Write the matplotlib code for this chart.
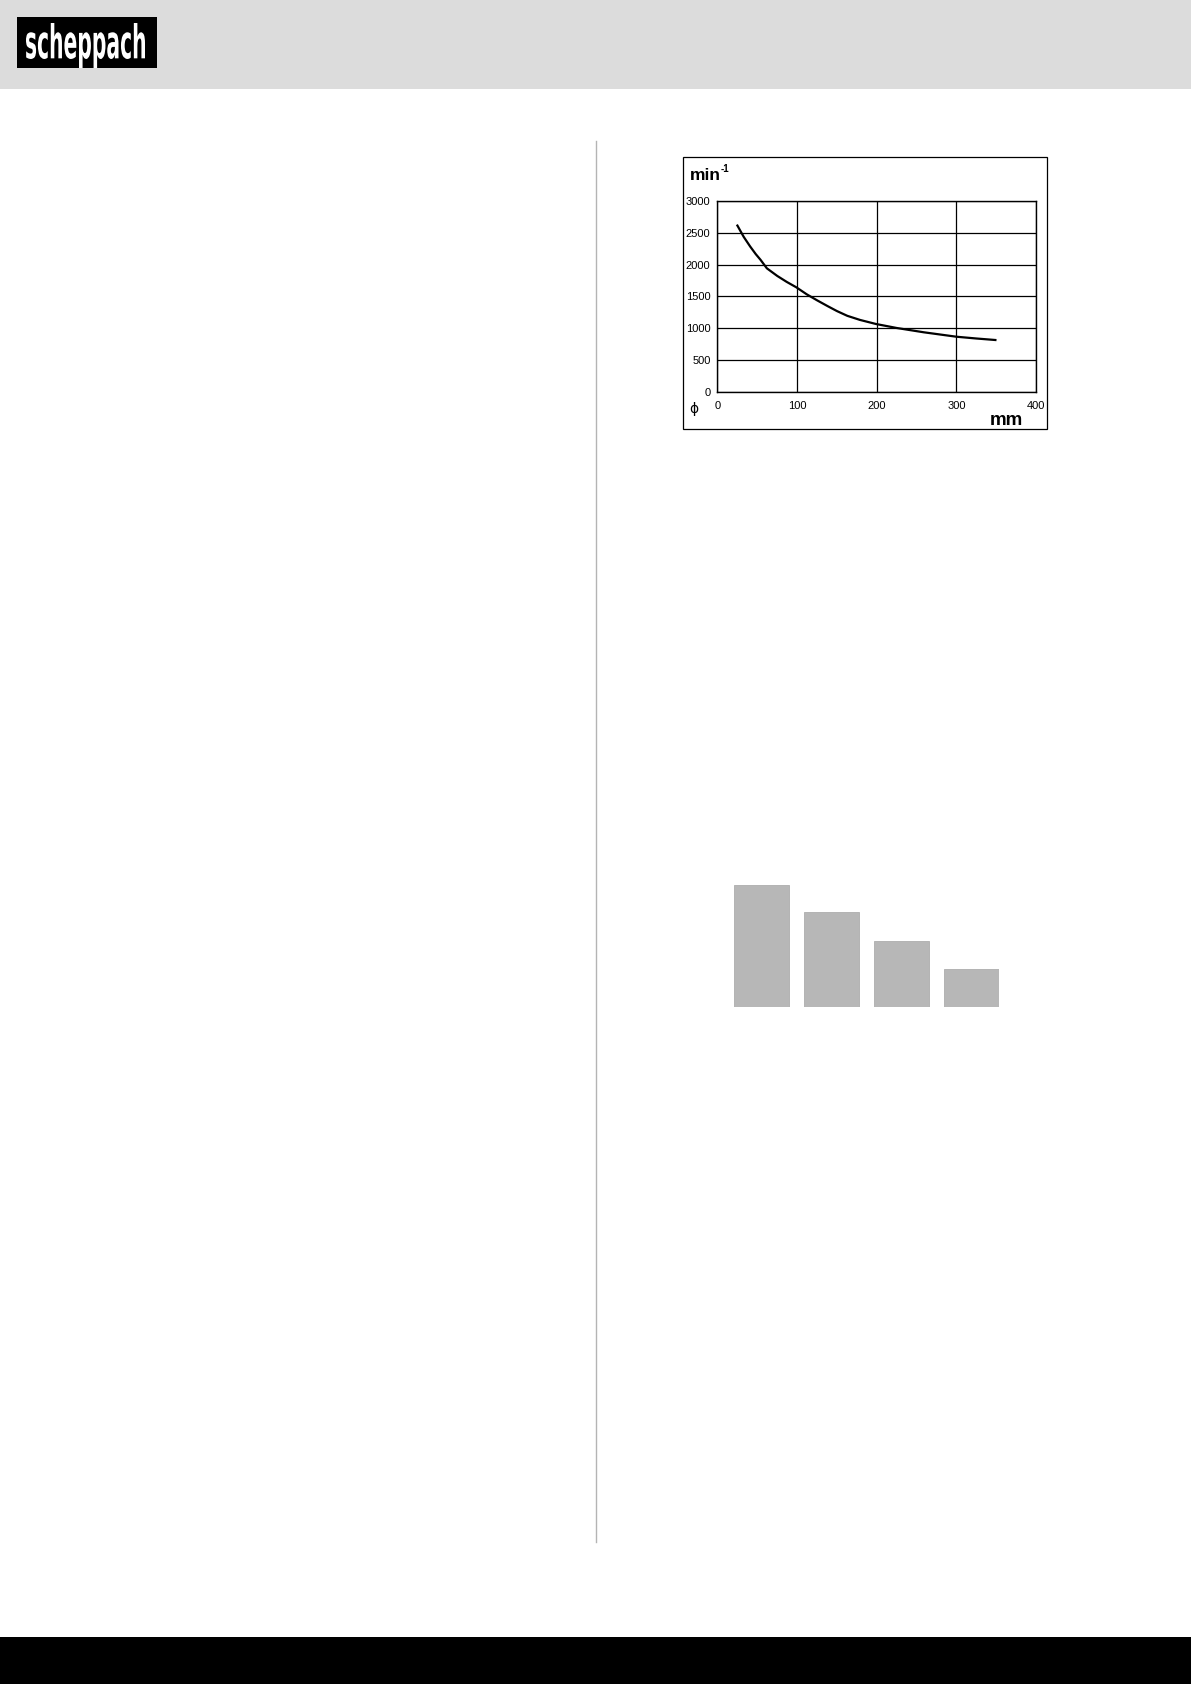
import matplotlib.pyplot as plt
from matplotlib.patches import Rectangle, PathPatch
from matplotlib.textpath import TextPath
from matplotlib.font_manager import FontProperties
from matplotlib.transforms import Affine2D

W, H = 1191, 1684

# Drehzahl-Kennlinie (Durchmesser in mm -> min^-1)
diameter_mm = [25, 33, 41, 48, 54, 62, 75, 87, 99, 112, 125, 138, 150, 163, 179, 199, 225, 259, 300, 325, 349]
speed_rpm = [2620, 2440, 2290, 2170, 2080, 1945, 1825, 1730, 1645, 1535, 1440, 1350, 1270, 1195, 1130, 1066, 1003, 935, 865, 837, 813]
x_ticks = [0, 100, 200, 300, 400]
y_ticks = [0, 500, 1000, 1500, 2000, 2500, 3000]

# graue Balken (relative Höhen)
bar_pos = [0, 1, 2, 3]
bar_heights = [122, 95, 66, 38]

plt.rcParams['font.family'] = ['Liberation Sans', 'DejaVu Sans']

fig = plt.figure(figsize=(W / 100, H / 100), dpi=100)


def box(x0, y0, x1, y1):
    # Pixelrechteck (von oben gemessen) -> Figurenanteile
    return [x0 / W, 1 - y1 / H, (x1 - x0) / W, (y1 - y0) / H]


# Seite in Pixelkoordinaten
page = fig.add_axes([0, 0, 1, 1])
page.set_xlim(0, W)
page.set_ylim(H, 0)
page.axis('off')

page.add_patch(Rectangle((0, 0), W, 89, color='#dcdcdc', lw=0))
page.add_patch(Rectangle((0, 1637), W, H - 1637, color='black', lw=0))
page.plot([595.5, 595.5], [141, 1542], color='#b4b4b4', lw=1)

# Logo
page.add_patch(Rectangle((17, 17), 140, 51, color='black', lw=0))
tp = TextPath((0, 0), "scheppach", size=10,
              prop=FontProperties(family=['Liberation Sans Narrow', 'DejaVu Sans'], weight='bold'))
ext = tp.get_extents()
tr = Affine2D().translate(-ext.x0, -ext.y1).scale(119 / ext.width, -45 / ext.height).translate(26, 23)
page.add_patch(PathPatch(tr.transform_path(tp), color='white', lw=0))

# Rahmen um das Diagramm
page.add_patch(Rectangle((682.5, 156.5), 364.5, 272.5, fill=False, ec='black', lw=0.9))
page.text(690, 180, "min", fontsize=12.5, fontweight='bold', va='baseline', ha='left')
page.text(721, 172, "-1", fontsize=7, fontweight='bold', va='baseline', ha='left')
page.text(990, 425, "mm", fontsize=13.5, fontweight='bold', va='baseline', ha='left')
page.text(694, 409, "ϕ", fontsize=10, family=['DejaVu Sans'], va='center', ha='center')

ax = fig.add_axes(box(717.5, 201.5, 1036, 391.5))
ax.plot(diameter_mm, speed_rpm, color='black', lw=1.6)
ax.set_xlim(0, 400)
ax.set_ylim(0, 3000)
ax.set_xticks(x_ticks)
ax.set_yticks(y_ticks)
ax.grid(True, color='black', lw=0.9)
for s in ax.spines.values():
    s.set_color('black')
    s.set_linewidth(1)
ax.tick_params(axis='both', length=0, labelsize=8)
ax.tick_params(axis='y', pad=5)
ax.tick_params(axis='x', pad=7)

# Balken
bx = fig.add_axes(box(734, 885, 999, 1007))
bx.bar(bar_pos, bar_heights, width=0.786, color='#b7b7b7', edgecolor='#adadad', lw=0.6)
bx.set_xlim(-0.393, 3.393)
bx.set_ylim(0, 122)
bx.axis('off')

fig.savefig('out.png', dpi=100)
